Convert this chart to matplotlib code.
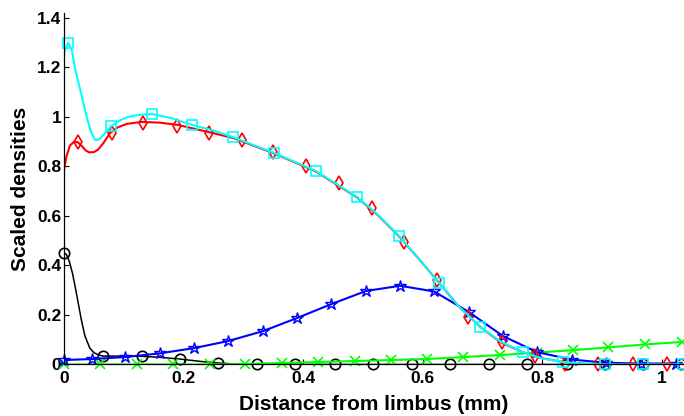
import matplotlib
matplotlib.use("Agg")
import matplotlib.pyplot as plt

# --- marker data ---
black_x = [0, 0.065, 0.13, 0.194, 0.258, 0.323, 0.386, 0.453, 0.517, 0.582,
           0.645, 0.71, 0.774, 0.841, 0.905, 0.968, 1.032]
black_y = [0.45, 0.034, 0.033, 0.022, 0.006, 0, 0, 0, 0, 0,
           0, 0, 0, 0, 0, 0, 0]

green_x = [0, 0.06, 0.122, 0.182, 0.244, 0.303, 0.364, 0.425, 0.487, 0.547,
           0.607, 0.667, 0.729, 0.791, 0.851, 0.91, 0.972, 1.033]
green_y = [0, 0, 0, 0, 0, 0.002, 0.006, 0.01, 0.014, 0.018,
           0.022, 0.03, 0.038, 0.048, 0.058, 0.069, 0.081, 0.091]

blue_x = [0, 0.046, 0.102, 0.16, 0.217, 0.275, 0.333, 0.39, 0.447, 0.505,
          0.562, 0.619, 0.677, 0.734, 0.791, 0.849, 0.907, 0.965, 1.024]
blue_y = [0.018, 0.022, 0.03, 0.045, 0.066, 0.095, 0.135, 0.188, 0.244, 0.297,
          0.318, 0.295, 0.212, 0.115, 0.05, 0.02, 0.007, 0.004, 0.004]

red_x = [0.023, 0.08, 0.132, 0.189, 0.242, 0.298, 0.35, 0.405, 0.46, 0.515,
         0.569, 0.623, 0.676, 0.732, 0.788, 0.838, 0.893, 0.951, 1.008]
red_y = [0.9, 0.935, 0.976, 0.963, 0.935, 0.907, 0.859, 0.802, 0.733, 0.632,
         0.495, 0.341, 0.192, 0.091, 0.034, 0.0, 0.0, 0.0, 0.0]

cyan_x = [0.007, 0.079, 0.147, 0.214, 0.283, 0.351, 0.421, 0.49, 0.56, 0.627,
          0.696, 0.767, 0.835, 0.905, 0.968, 1.035]
cyan_y = [1.30, 0.963, 1.01, 0.966, 0.918, 0.855, 0.782, 0.677, 0.52, 0.33,
          0.152, 0.05, 0.01, 0.0, 0.0, 0.0]

# --- smoothed curves ---
black_cx = [0, 0.004, 0.009, 0.014, 0.019, 0.024, 0.029, 0.035, 0.043, 0.05,
            0.057, 0.065, 0.1, 0.13, 0.16, 0.194, 0.23, 0.258, 0.3, 1.04]
black_cy = [0.45, 0.445, 0.415, 0.37, 0.31, 0.245, 0.18, 0.115, 0.067, 0.048,
            0.039, 0.034, 0.034, 0.033, 0.029, 0.022, 0.012, 0.006, 0.0, 0.0]

red_cx = [0, 0.004, 0.01, 0.017, 0.023, 0.03, 0.036, 0.042, 0.05, 0.057,
          0.066, 0.077, 0.09, 0.105, 0.13, 0.16, 0.19, 0.24, 0.283, 0.351,
          0.421, 0.49, 0.525, 0.56, 0.594, 0.627, 0.66, 0.696, 0.73, 0.767,
          0.8, 0.835, 0.87, 0.905, 1.04]
red_cy = [0.785, 0.84, 0.885, 0.9, 0.898, 0.882, 0.865, 0.857, 0.858, 0.868,
          0.895, 0.935, 0.958, 0.972, 0.98, 0.977, 0.968, 0.94, 0.915, 0.853,
          0.78, 0.675, 0.603, 0.518, 0.425, 0.33, 0.235, 0.152, 0.09, 0.05,
          0.025, 0.01, 0.003, 0.0, 0.0]

cyan_cx = [0, 0.007, 0.013, 0.018, 0.025, 0.032, 0.039, 0.045, 0.052, 0.058,
           0.066, 0.079, 0.092, 0.107, 0.125, 0.147, 0.18, 0.214, 0.25, 0.283,
           0.351, 0.421, 0.49, 0.525, 0.56, 0.594, 0.627, 0.66, 0.696, 0.73,
           0.767, 0.8, 0.835, 0.87, 0.905, 1.04]
cyan_cy = [1.258, 1.30, 1.27, 1.2, 1.13, 1.06, 0.99, 0.94, 0.907, 0.908,
           0.928, 0.963, 0.985, 1.0, 1.008, 1.012, 0.995, 0.968, 0.945, 0.918,
           0.855, 0.782, 0.677, 0.605, 0.52, 0.425, 0.33, 0.235, 0.152, 0.093,
           0.05, 0.024, 0.01, 0.003, 0.0, 0.0]

blue_cx = blue_x
blue_cy = blue_y

green_cx = green_x
green_cy = green_y

X_TICKS = [0, 0.2, 0.4, 0.6, 0.8, 1]
X_TICK_LABELS = ["0", "0.2", "0.4", "0.6", "0.8", "1"]
Y_TICKS = [0, 0.2, 0.4, 0.6, 0.8, 1, 1.2, 1.4]
Y_TICK_LABELS = ["0", "0.2", "0.4", "0.6", "0.8", "1", "1.2", "1.4"]


def draw_series(ax, cx, cy, mx, my, color, marker, ms, lw, mew=1.2):
    ax.plot(cx, cy, color=color, lw=lw, solid_joinstyle="round")
    ax.plot(mx, my, ls="none", marker=marker, ms=ms, mec=color, mfc="none",
            mew=mew, clip_on=False)


def main():
    plt.rcParams["font.family"] = ["Liberation Sans", "DejaVu Sans"]
    plt.rcParams["font.weight"] = "bold"

    fig = plt.figure(figsize=(6.84, 4.16), dpi=100)
    ax = fig.add_axes([0.0936, 0.1238, 0.9064, 0.845])

    draw_series(ax, black_cx, black_cy, black_x, black_y, "black", "o", 7.5, 1.1)
    draw_series(ax, green_cx, green_cy, green_x, green_y, "#00ff00", "x", 6.5, 1.5)
    draw_series(ax, blue_cx, blue_cy, blue_x, blue_y, "#0000ff", "*", 9, 1.5, mew=1.0)
    draw_series(ax, red_cx, red_cy, red_x, red_y, "#ff0000", "d", 7, 1.5)
    draw_series(ax, cyan_cx, cyan_cy, cyan_x, cyan_y, "#00ffff", "s", 7.5, 1.5)

    ax.set_xlim(0, 1.0368)
    ax.set_ylim(0, 1.42)
    ax.set_xticks(X_TICKS)
    ax.set_xticklabels(X_TICK_LABELS)
    ax.set_yticks(Y_TICKS)
    ax.set_yticklabels(Y_TICK_LABELS)
    ax.tick_params(direction="in", length=3.5, width=0.8, labelsize=12.5)
    ax.tick_params(axis="x", pad=5)
    ax.tick_params(axis="y", pad=2)

    ax.spines["top"].set_visible(False)
    ax.spines["right"].set_visible(False)
    for side in ["left", "bottom"]:
        ax.spines[side].set_linewidth(0.9)

    ax.set_xlabel("Distance from limbus (mm)", fontsize=15, fontweight="bold",
                  labelpad=6)
    ax.set_ylabel("Scaled densities", fontsize=15, fontweight="bold",
                  labelpad=5)

    fig.savefig("out.png", dpi=100)
    plt.close(fig)


if __name__ == "__main__":
    main()
